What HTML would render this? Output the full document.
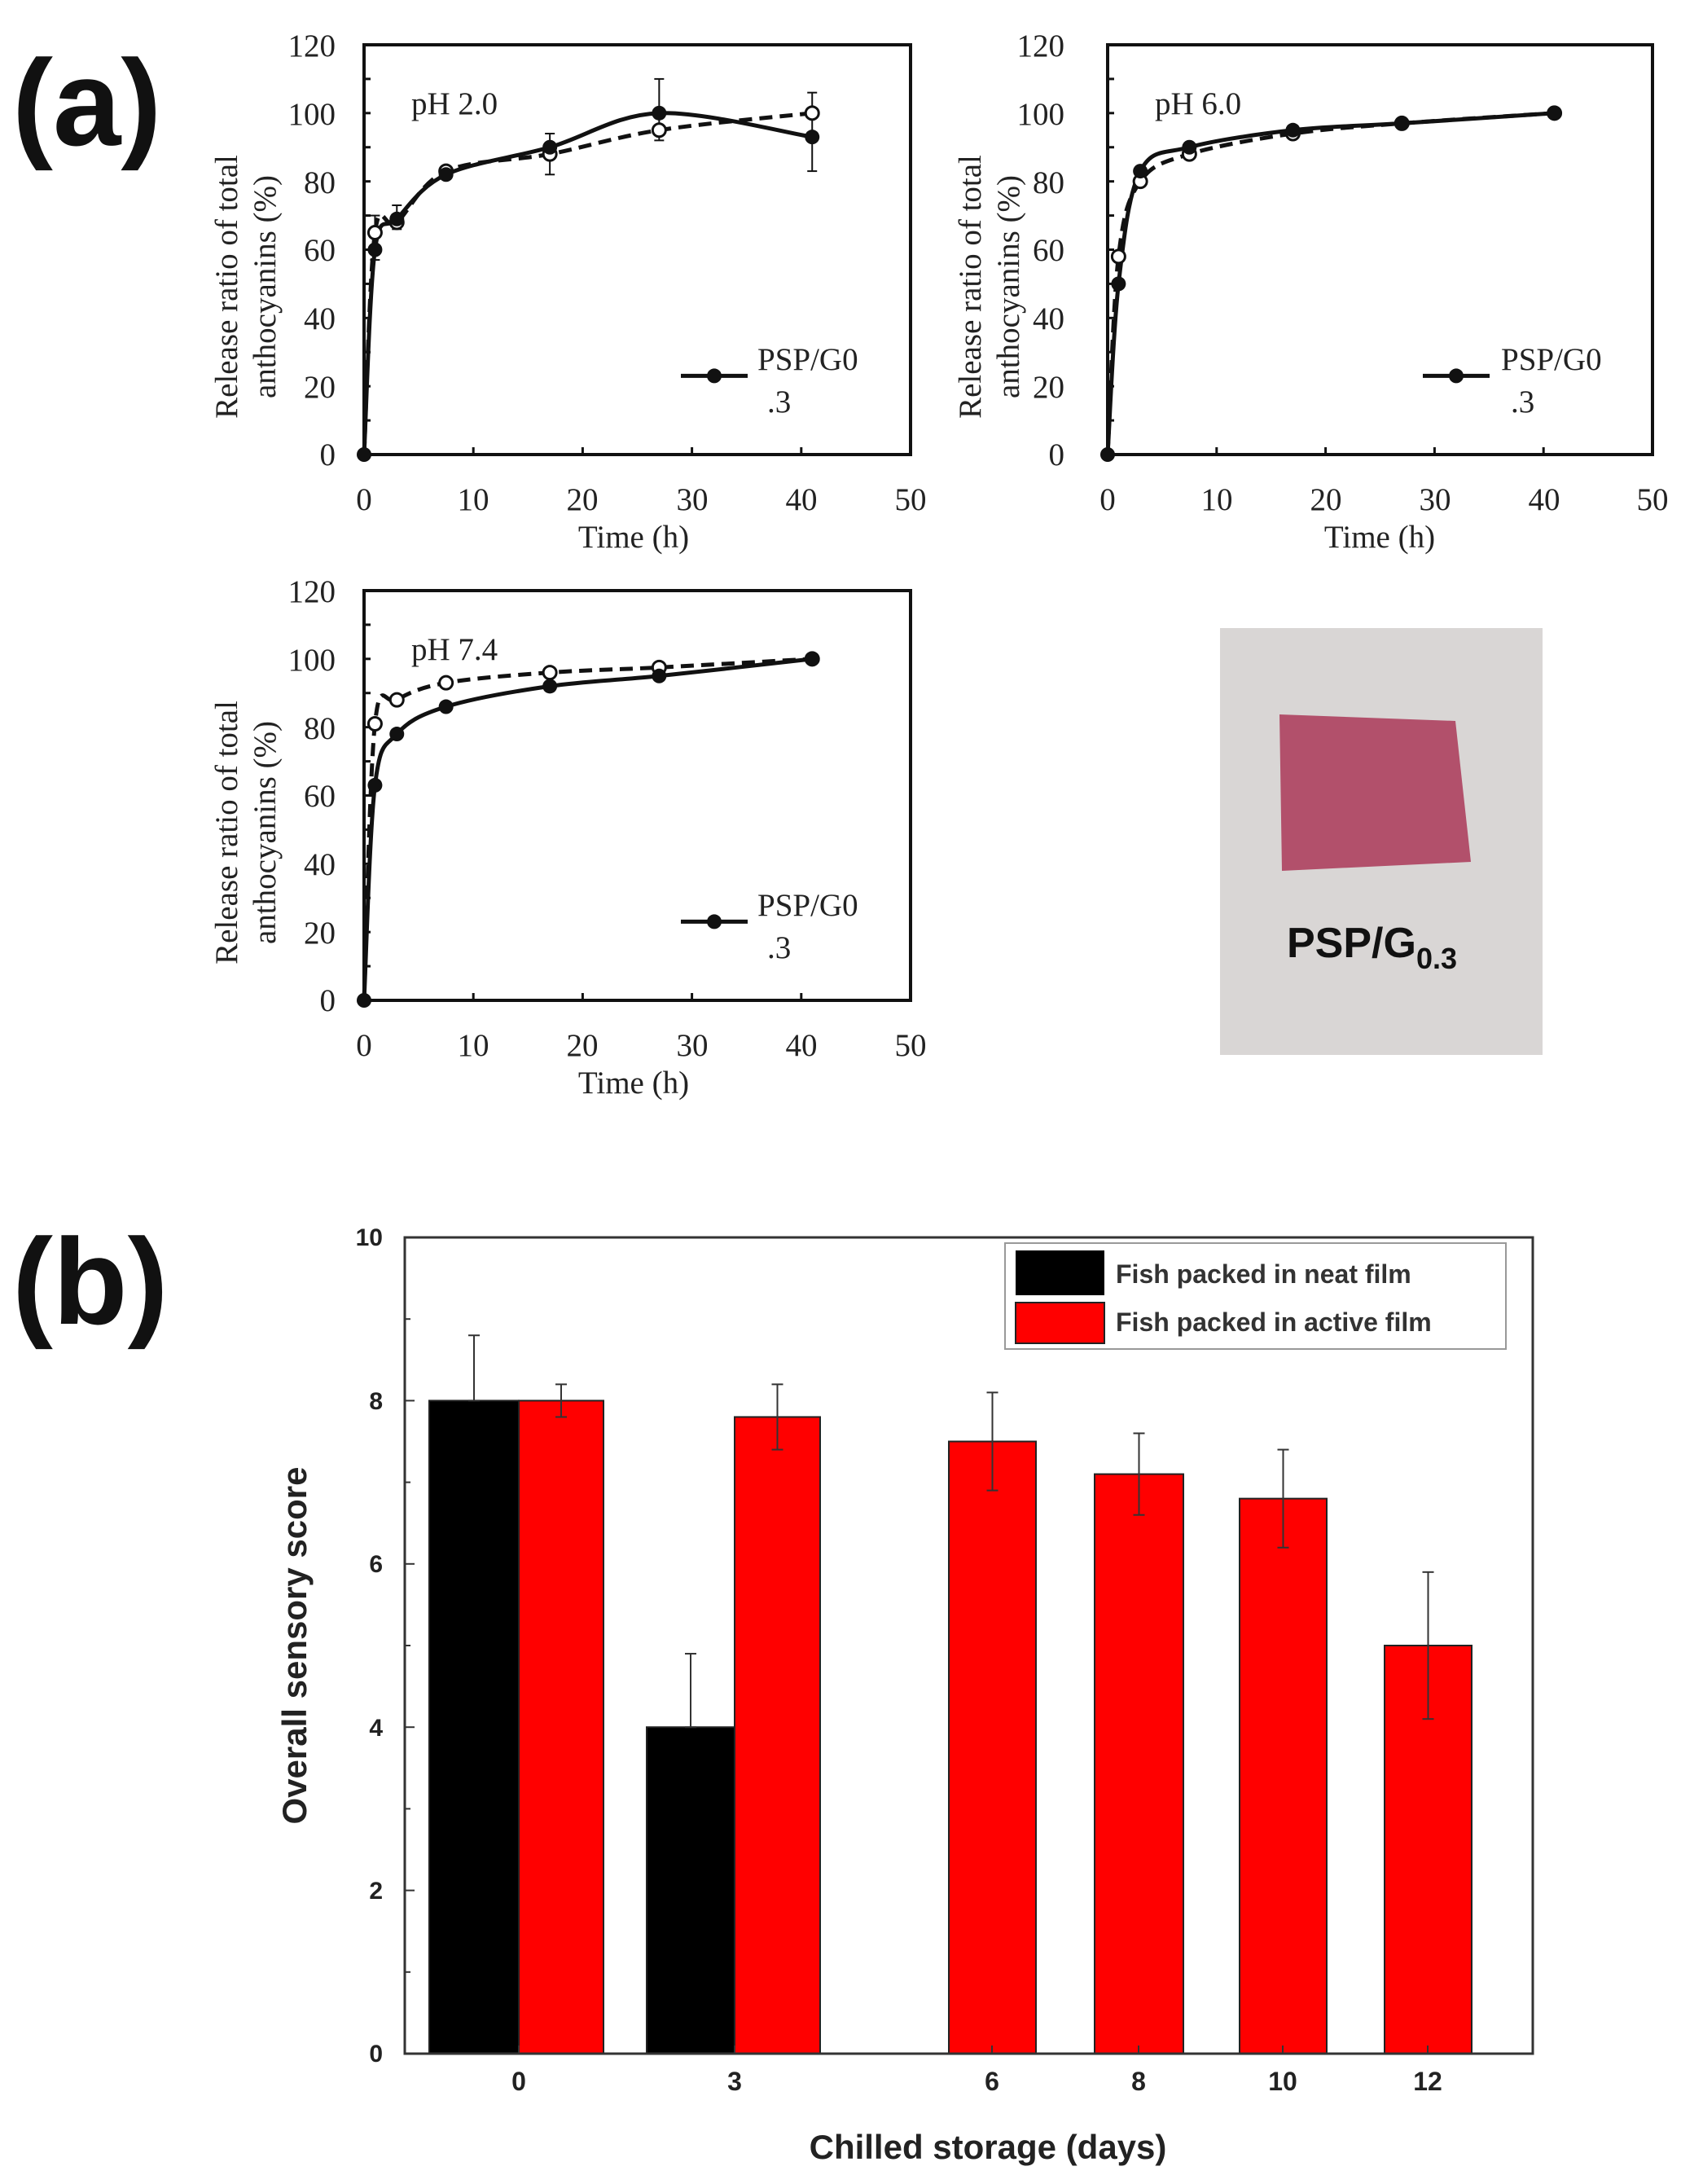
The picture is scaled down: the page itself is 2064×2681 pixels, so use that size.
<!DOCTYPE html>
<html><head><meta charset="utf-8"><style>
html,body{margin:0;padding:0;background:#fff;}
svg{display:block;}
.ser{font-family:"Liberation Serif",serif;fill:#222;}
.sans{font-family:"Liberation Sans",sans-serif;}
</style></head><body>
<svg id="s" width="2064" height="2681" viewBox="0 0 2064 2681" xmlns="http://www.w3.org/2000/svg">
<rect width="2064" height="2681" fill="#fff"/>
<text x="15" y="178" class="sans" font-size="150" font-weight="bold" fill="#111">(a)</text>
<text x="15" y="1625" class="sans" font-size="150" font-weight="bold" fill="#111">(b)</text>

<g id="g"></g>

<g class="ser" font-size="39">
<g text-anchor="end">
<text x="412" y="69">120</text><text x="412" y="153">100</text><text x="412" y="237">80</text><text x="412" y="320">60</text><text x="412" y="404">40</text><text x="412" y="488">20</text><text x="412" y="571">0</text>
<text x="1307" y="69">120</text><text x="1307" y="153">100</text><text x="1307" y="237">80</text><text x="1307" y="320">60</text><text x="1307" y="404">40</text><text x="1307" y="488">20</text><text x="1307" y="571">0</text>
<text x="412" y="739">120</text><text x="412" y="823">100</text><text x="412" y="907">80</text><text x="412" y="990">60</text><text x="412" y="1074">40</text><text x="412" y="1158">20</text><text x="412" y="1241">0</text>
</g>
<g text-anchor="middle">
<text x="447" y="626">0</text><text x="581" y="626">10</text><text x="715" y="626">20</text><text x="850" y="626">30</text><text x="984" y="626">40</text><text x="1118" y="626">50</text>
<text x="778" y="672">Time (h)</text>
<text x="1360" y="626">0</text><text x="1494" y="626">10</text><text x="1628" y="626">20</text><text x="1762" y="626">30</text><text x="1896" y="626">40</text><text x="2029" y="626">50</text>
<text x="1694" y="672">Time (h)</text>
<text x="447" y="1296">0</text><text x="581" y="1296">10</text><text x="715" y="1296">20</text><text x="850" y="1296">30</text><text x="984" y="1296">40</text><text x="1118" y="1296">50</text>
<text x="778" y="1342">Time (h)</text>
<text transform="translate(291,352) rotate(-90)">Release ratio of total</text>
<text transform="translate(338,352) rotate(-90)">anthocyanins (%)</text>
<text transform="translate(1204,352) rotate(-90)">Release ratio of total</text>
<text transform="translate(1251,352) rotate(-90)">anthocyanins (%)</text>
<text transform="translate(291,1022) rotate(-90)">Release ratio of total</text>
<text transform="translate(338,1022) rotate(-90)">anthocyanins (%)</text>
</g>
<text x="505" y="140">pH 2.0</text>
<text x="1418" y="140">pH 6.0</text>
<text x="505" y="810">pH 7.4</text>
<text x="930" y="454">PSP/G0</text><text x="942" y="506">.3</text>
<text x="1843" y="454">PSP/G0</text><text x="1855" y="506">.3</text>
<text x="930" y="1124">PSP/G0</text><text x="942" y="1176">.3</text>
</g>

<!-- photo -->
<rect x="1498" y="771" width="396" height="524" fill="#d9d6d5"/>
<polygon points="1571,877 1787,885 1806,1058 1574,1069" fill="#b2506b"/>
<text x="1580" y="1175" class="sans" font-size="52" font-weight="bold" fill="#111">PSP/G<tspan font-size="36" dy="14">0.3</tspan></text>

<!-- bar legend -->
<rect x="1234" y="1526" width="615" height="130" fill="#fff" stroke="#999" stroke-width="2"/>
<rect x="1247" y="1535" width="109" height="55" fill="#000"/>
<rect x="1247" y="1599" width="109" height="50" fill="red" stroke="#222" stroke-width="2"/>

<g class="sans" font-weight="bold" fill="#222">
<g font-size="30" text-anchor="end">
<text x="470" y="1529">10</text><text x="470" y="1730">8</text><text x="470" y="1930">6</text><text x="470" y="2131">4</text><text x="470" y="2331">2</text><text x="470" y="2531">0</text>
</g>
<g font-size="32" text-anchor="middle">
<text x="637" y="2566">0</text><text x="902" y="2566">3</text><text x="1218" y="2566">6</text><text x="1398" y="2566">8</text><text x="1575" y="2566">10</text><text x="1753" y="2566">12</text>
</g>
<text x="1213" y="2650" font-size="42" text-anchor="middle">Chilled storage (days)</text>
<text transform="translate(376,2020) rotate(-90)" font-size="42" text-anchor="middle">Overall sensory score</text>
<text x="1370" y="1575" font-size="32" fill="#333">Fish packed in neat film</text>
<text x="1370" y="1634" font-size="32" fill="#333">Fish packed in active film</text>
</g>
</svg>
<script>
var NS="http://www.w3.org/2000/svg",G=document.getElementById('g');
function el(t,a){var e=document.createElementNS(NS,t);for(var k in a)e.setAttribute(k,a[k]);G.appendChild(e);return e;}
function line(x1,y1,x2,y2,w,c,d){var o={x1:x1,y1:y1,x2:x2,y2:y2,stroke:c||'#111','stroke-width':w||3};if(d)o['stroke-dasharray']=d;el('line',o);}
function smooth(p){var d='M'+p[0][0]+','+p[0][1];for(var i=0;i<p.length-1;i++){var p0=p[i-1]||p[i],p1=p[i],p2=p[i+1],p3=p[i+2]||p2;var c1=[p1[0]+(p2[0]-p0[0])/6,p1[1]+(p2[1]-p0[1])/6],c2=[p2[0]-(p3[0]-p1[0])/6,p2[1]-(p3[1]-p1[1])/6];d+=' C'+c1+' '+c2+' '+p2;}return d;}
function lplot(L,T,R,B,sol,das,err){
 el('rect',{x:L,y:T,width:R-L,height:B-T,fill:'none',stroke:'#111','stroke-width':4});
 var sx=(R-L)/50,sy=(B-T)/120;
 for(var v=0;v<=120;v+=10)line(L,B-v*sy,L+8,B-v*sy,3);
 for(var t=10;t<50;t+=10)line(L+t*sx,B,L+t*sx,B-9,3);
 function P(a){return a.map(function(q){return[L+q[0]*sx,B-q[1]*sy];});}
 var ps=P(sol),pd=P(das);
 if(err)err.forEach(function(e){var x=L+e[0]*sx;line(x,B-e[1]*sy,x,B-e[2]*sy,2);line(x-6,B-e[1]*sy,x+6,B-e[1]*sy,2);line(x-6,B-e[2]*sy,x+6,B-e[2]*sy,2);});
 el('path',{d:smooth(pd),fill:'none',stroke:'#111','stroke-width':5,'stroke-dasharray':'16,9'});
 el('path',{d:smooth(ps),fill:'none',stroke:'#111','stroke-width':5});
 pd.forEach(function(q,i){if(i)el('circle',{cx:q[0],cy:q[1],r:8,fill:'#fff',stroke:'#111','stroke-width':3});});
 ps.forEach(function(q){el('circle',{cx:q[0],cy:q[1],r:9,fill:'#111'});});
 var ly=B-(B-T)*0.2+4; line(R-282,ly,R-200,ly,5); el('circle',{cx:R-241,cy:ly,r:9,fill:'#111'});
}
lplot(447,55,1118,558,[[0,0],[1,60],[3,69],[7.5,82],[17,90],[27,100],[41,93]],[[0,0],[1,65],[3,68],[7.5,83],[17,88],[27,95],[41,100]],
 [[1,57,70],[3,66,73],[17,82,94],[27,92,110],[41,83,106]]);
lplot(1360,55,2029,558,[[0,0],[1,50],[3,83],[7.5,90],[17,95],[27,97],[41,100]],[[0,0],[1,58],[3,80],[7.5,88],[17,94],[27,97],[41,100]],null);
lplot(447,725,1118,1228,[[0,0],[1,63],[3,78],[7.5,86],[17,92],[27,95],[41,100]],[[0,0],[1,81],[3,88],[7.5,93],[17,96],[27,97.5],[41,100]],null);
var L=497,T=1519,R=1882,B=2521,sy=(B-T)/10;
var bars=[[527,637,8,'#000',8.8,8],[637,741,8,'red',8.2,7.8],[794,902,4,'#000',4.9,4],[902,1007,7.8,'red',8.2,7.4],[1165,1272,7.5,'red',8.1,6.9],[1344,1453,7.1,'red',7.6,6.6],[1522,1629,6.8,'red',7.4,6.2],[1700,1807,5,'red',5.9,4.1]];
bars.forEach(function(b){el('rect',{x:b[0],y:B-b[2]*sy,width:b[1]-b[0],height:b[2]*sy,fill:b[3],stroke:'#222','stroke-width':2});
 var x=(b[0]+b[1])/2;line(x,B-b[4]*sy,x,B-b[5]*sy,2,'#333');line(x-7,B-b[4]*sy,x+7,B-b[4]*sy,2,'#333');line(x-7,B-b[5]*sy,x+7,B-b[5]*sy,2,'#333');});
el('rect',{x:L,y:T,width:R-L,height:B-T,fill:'none',stroke:'#333','stroke-width':3});
for(var v=0;v<=10;v++)line(L,B-v*sy,L+(v%2?7:12),B-v*sy,2,'#333');
[637,902,1218,1398,1575,1753].forEach(function(x){line(x,B,x,B-10,2,'#333');});
</script>
</body></html>
